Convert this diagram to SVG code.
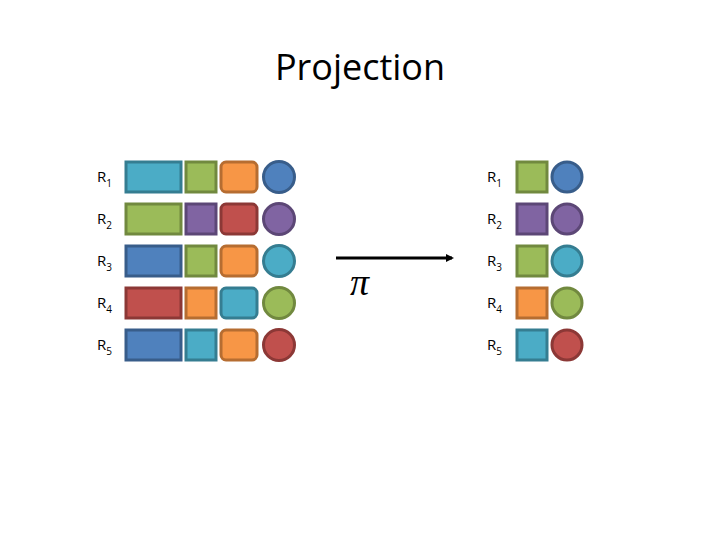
<svg xmlns="http://www.w3.org/2000/svg" width="720" height="540" viewBox="0 0 720 540">
<style>
text{font-family:"Open Sans","Liberation Sans",sans-serif;fill:#000}
.l{font-size:15px}.s{font-size:10px}
rect,circle{stroke-width:3}
.c{fill:#4BACC6;stroke:#357D91}.g{fill:#9BBB59;stroke:#71893F}.o{fill:#F79646;stroke:#B66D31}
.b{fill:#4F81BD;stroke:#385D8A}.p{fill:#8064A2;stroke:#5C4776}.r{fill:#C0504D;stroke:#8C3836}
</style>
<defs>
<marker id="ah" markerWidth="8" markerHeight="8" refX="6" refY="4" orient="auto" markerUnits="userSpaceOnUse"><path d="M0,0 L8,4 L0,8 Z" fill="#000"/></marker>
<g id="rowL"/>
</defs>
<rect width="720" height="540" fill="#fff" stroke="none"/>
<text x="360" y="80" font-size="36" text-anchor="middle">Projection</text>
<g id="left">
<g id="L1" transform="translate(0,177)"><text class="l" x="97" y="5">R<tspan class="s" dy="5">1</tspan></text><rect class="c" x="126" y="-15" width="55" height="30"/><rect class="g" x="186" y="-15" width="30" height="30"/><rect class="o" x="221" y="-15" width="36" height="30" rx="5"/><circle class="b" cx="279" cy="0" r="15.5"/></g>
<g id="L2" transform="translate(0,219)"><text class="l" x="97" y="5">R<tspan class="s" dy="5">2</tspan></text><rect class="g" x="126" y="-15" width="55" height="30"/><rect class="p" x="186" y="-15" width="30" height="30"/><rect class="r" x="221" y="-15" width="36" height="30" rx="5"/><circle class="p" cx="279" cy="0" r="15.5"/></g>
<g id="L3" transform="translate(0,261)"><text class="l" x="97" y="5">R<tspan class="s" dy="5">3</tspan></text><rect class="b" x="126" y="-15" width="55" height="30"/><rect class="g" x="186" y="-15" width="30" height="30"/><rect class="o" x="221" y="-15" width="36" height="30" rx="5"/><circle class="c" cx="279" cy="0" r="15.5"/></g>
<g id="L4" transform="translate(0,303)"><text class="l" x="97" y="5">R<tspan class="s" dy="5">4</tspan></text><rect class="r" x="126" y="-15" width="55" height="30"/><rect class="o" x="186" y="-15" width="30" height="30"/><rect class="c" x="221" y="-15" width="36" height="30" rx="5"/><circle class="g" cx="279" cy="0" r="15.5"/></g>
<g id="L5" transform="translate(0,345)"><text class="l" x="97" y="5">R<tspan class="s" dy="5">5</tspan></text><rect class="b" x="126" y="-15" width="55" height="30"/><rect class="c" x="186" y="-15" width="30" height="30"/><rect class="o" x="221" y="-15" width="36" height="30" rx="5"/><circle class="r" cx="279" cy="0" r="15.5"/></g>
</g>
<g id="right">
<g id="R1" transform="translate(0,177)"><text class="l" x="487" y="5">R<tspan class="s" dy="5">1</tspan></text><rect class="g" x="517" y="-15" width="30" height="30"/><circle class="b" cx="567" cy="0" r="15"/></g>
<g id="R2" transform="translate(0,219)"><text class="l" x="487" y="5">R<tspan class="s" dy="5">2</tspan></text><rect class="p" x="517" y="-15" width="30" height="30"/><circle class="p" cx="567" cy="0" r="15"/></g>
<g id="R3" transform="translate(0,261)"><text class="l" x="487" y="5">R<tspan class="s" dy="5">3</tspan></text><rect class="g" x="517" y="-15" width="30" height="30"/><circle class="c" cx="567" cy="0" r="15"/></g>
<g id="R4" transform="translate(0,303)"><text class="l" x="487" y="5">R<tspan class="s" dy="5">4</tspan></text><rect class="o" x="517" y="-15" width="30" height="30"/><circle class="g" cx="567" cy="0" r="15"/></g>
<g id="R5" transform="translate(0,345)"><text class="l" x="487" y="5">R<tspan class="s" dy="5">5</tspan></text><rect class="c" x="517" y="-15" width="30" height="30"/><circle class="r" cx="567" cy="0" r="15"/></g>
</g>
<g id="connectors">
<line x1="336" y1="258" x2="452" y2="258" stroke="#000" stroke-width="3" marker-end="url(#ah)"/>
<text x="350" y="295" font-family="'Liberation Serif',serif" font-style="italic" font-size="38" style="font-family:'Liberation Serif',serif">π</text>
</g>
</svg>
